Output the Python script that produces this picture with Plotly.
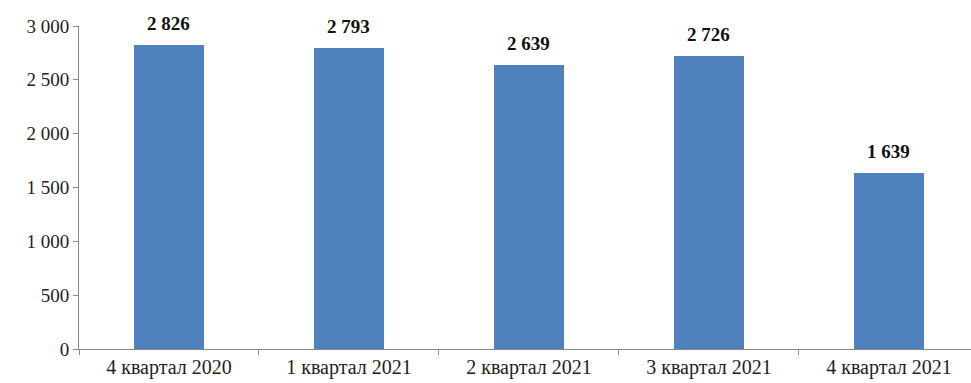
import plotly.graph_objects as go

categories = ["4 квартал 2020", "1 квартал 2021", "2 квартал 2021", "3 квартал 2021", "4 квартал 2021"]
values = [2826, 2793, 2639, 2726, 1639]
value_labels = ["2 826", "2 793", "2 639", "2 726", "1 639"]
y_tickvals = [0, 500, 1000, 1500, 2000, 2500, 3000]
y_ticktext = ["0", "500", "1 000", "1 500", "2 000", "2 500", "3 000"]

SERIF = "Liberation Serif, Times New Roman, serif"

fig = go.Figure()
fig.add_trace(go.Bar(
    x=categories, y=values,
    marker=dict(color="#4F81BD", line=dict(width=0)),
    width=0.39,
    hoverinfo="skip",
))

for c, v, t in zip(categories, values, value_labels):
    fig.add_annotation(x=c, y=v, text="<b>" + t + "</b>", showarrow=False,
                       yanchor="bottom", yshift=9,
                       font=dict(family=SERIF, size=19, color="#111"))

fig.update_layout(
    width=971, height=383,
    margin=dict(l=79, r=0, t=26, b=34),
    paper_bgcolor="white", plot_bgcolor="white",
    showlegend=False,
    font=dict(family=SERIF, size=18, color="#222"),
    bargap=0,
)
fig.update_xaxes(
    type="category", range=[-0.5, 4.456],
    showline=True, linecolor="#8a8a8a", linewidth=1,
    ticks="outside", ticklen=5, tickcolor="#8a8a8a", tickson="boundaries",
    showgrid=False, tickfont=dict(family=SERIF, size=20, color="#222"), fixedrange=True,
)
fig.update_yaxes(
    range=[0, 3000], tickvals=y_tickvals, ticktext=y_ticktext,
    showline=True, linecolor="#8a8a8a", linewidth=1,
    ticks="outside", ticklen=5, tickcolor="#8a8a8a",
    showgrid=False, zeroline=False, tickfont=dict(family=SERIF, size=19, color="#222"), fixedrange=True,
)

fig.write_html("out.html", config={"displayModeBar": False})
